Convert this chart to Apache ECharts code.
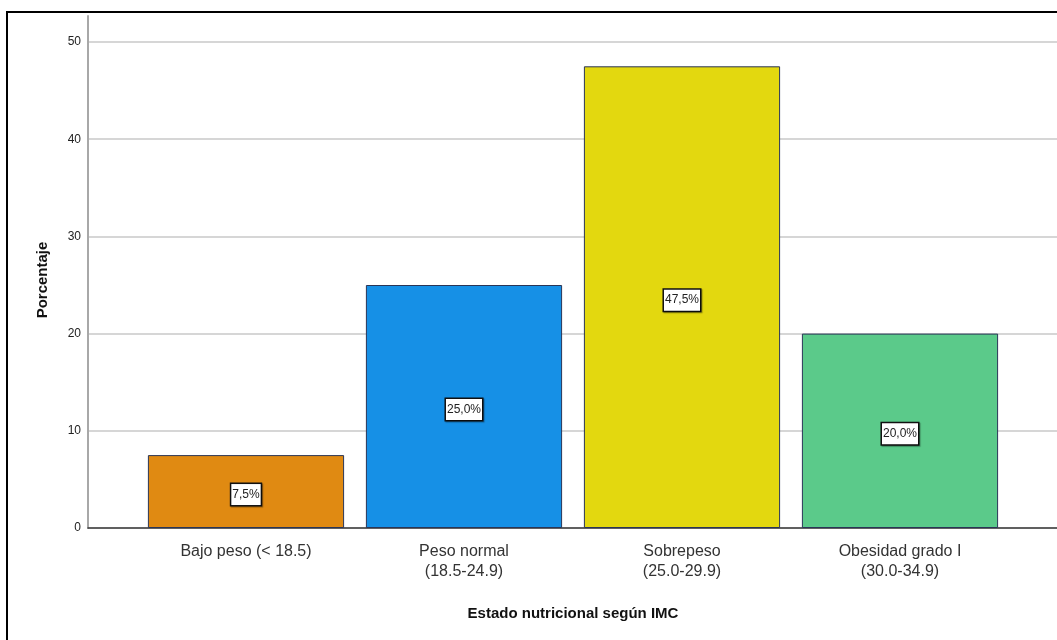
<!DOCTYPE html>
<html>
<head>
<meta charset="utf-8">
<script src="https://cdn.jsdelivr.net/npm/echarts@6/dist/echarts.min.js"></script>
<style>
  html, body { margin: 0; padding: 0; background: #ffffff; }
  #chart { width: 1057px; height: 640px; }
</style>
</head>
<body>
<div id="chart"></div>
<script>
// Estado nutricional según IMC: porcentaje por categoría
const categories = [
  'Bajo peso (< 18.5)',
  'Peso normal\n(18.5-24.9)',
  'Sobrepeso\n(25.0-29.9)',
  'Obesidad grado I\n(30.0-34.9)'
];
const percentages = [7.5, 25.0, 47.5, 20.0];
const barColors = ['#E08A12', '#1690E6', '#E3D80F', '#5BCA8A'];
const yTicks = [0, 10, 20, 30, 40, 50];

const FONT = '"Liberation Sans", Arial, sans-serif';
const yMax = yTicks[yTicks.length - 1];
const yStep = yTicks[1] - yTicks[0];

const chart = echarts.init(document.getElementById('chart'), null, { renderer: 'canvas' });

chart.setOption({
  backgroundColor: '#ffffff',
  animation: false,
  grid: [
    // gridlines, tick labels, baseline
    { left: 88, right: 0, top: 42, bottom: 112 },
    // taller vertical axis line
    { left: 88, right: 0, top: 16, bottom: 112 },
    // bars and category labels
    { left: 137, right: 48, top: 42, bottom: 112 }
  ],
  xAxis: [
    {
      gridIndex: 0, type: 'category', data: categories,
      axisLine: { show: true, lineStyle: { color: '#3a3a3a', width: 1.5 } },
      axisTick: { show: false }, axisLabel: { show: false }, splitLine: { show: false }
    },
    {
      gridIndex: 1, type: 'category', data: categories, show: false
    },
    {
      gridIndex: 2, type: 'category', data: categories,
      axisLine: { show: false }, axisTick: { show: false },
      axisLabel: {
        interval: 0, margin: 14, fontSize: 16, lineHeight: 20,
        color: '#333333', fontFamily: FONT
      },
      name: 'Estado nutricional según IMC',
      nameLocation: 'middle', nameGap: 78,
      nameTextStyle: { fontSize: 15, fontWeight: 'bold', color: '#111111', fontFamily: FONT }
    }
  ],
  yAxis: [
    {
      gridIndex: 0, type: 'value', min: 0, max: yMax, interval: yStep,
      axisLine: { show: false }, axisTick: { show: false },
      axisLabel: { margin: 7, fontSize: 12, color: '#222222', fontFamily: FONT },
      splitLine: { show: true, lineStyle: { color: '#c8c8c8', width: 1.5 } },
      name: 'Porcentaje', nameLocation: 'middle', nameGap: 38,
      nameTextStyle: { fontSize: 15, fontWeight: 'bold', color: '#111111', fontFamily: FONT, padding: [0, 0, 0, 10] }
    },
    {
      gridIndex: 1, type: 'value', min: 0, max: 52.7,
      axisLine: { show: true, lineStyle: { color: '#a8a8a8', width: 2 } },
      axisTick: { show: false }, axisLabel: { show: false }, splitLine: { show: false }
    },
    {
      gridIndex: 2, type: 'value', min: 0, max: yMax, show: false,
      splitLine: { show: false }
    }
  ],
  series: [
    {
      type: 'bar',
      xAxisIndex: 2, yAxisIndex: 2,
      barWidth: '90%',
      data: percentages.map((v, i) => ({
        value: v,
        itemStyle: { color: barColors[i] }
      })),
      itemStyle: { borderColor: '#2a3557', borderWidth: 1 },
      label: {
        show: true,
        position: 'inside',
        offset: [0, 3],
        formatter: p => p.value.toFixed(1).replace('.', ',') + '%',
        fontSize: 12,
        color: '#222222',
        fontFamily: FONT,
        backgroundColor: '#ffffff',
        borderColor: '#111111',
        borderWidth: 1.5,
        padding: [5, 1, 4, 1],
        shadowColor: 'rgba(0,0,0,0.35)',
        shadowOffsetX: 1,
        shadowOffsetY: 1,
        shadowBlur: 1
      }
    }
  ],
  graphic: [
    {
      type: 'rect',
      shape: { x: 7, y: 12, width: 1100, height: 700 },
      style: { fill: null, stroke: '#000000', lineWidth: 2 },
      silent: true
    }
  ]
});
</script>
</body>
</html>
